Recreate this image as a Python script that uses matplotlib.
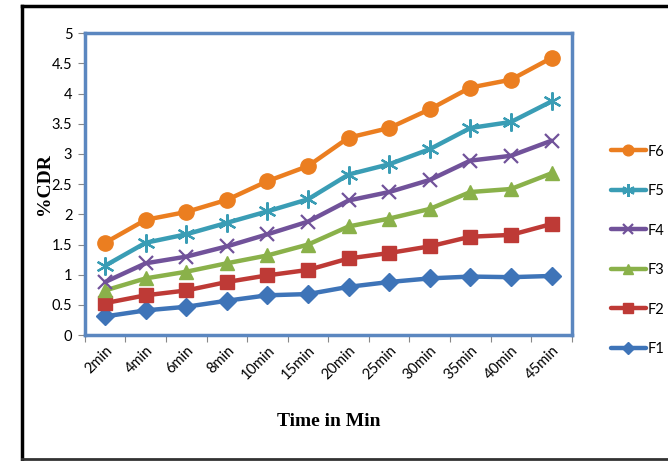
import matplotlib
matplotlib.use("Agg")
import matplotlib.pyplot as plt
from matplotlib.lines import Line2D

times = ['2min', '4min', '6min', '8min', '10min', '15min',
         '20min', '25min', '30min', '35min', '40min', '45min']

f1 = [0.31, 0.41, 0.47, 0.57, 0.66, 0.68, 0.80, 0.88, 0.94, 0.97, 0.96, 0.98]
f2 = [0.53, 0.66, 0.74, 0.88, 0.99, 1.08, 1.27, 1.36, 1.47, 1.63, 1.66, 1.84]
f3 = [0.74, 0.94, 1.05, 1.19, 1.32, 1.50, 1.80, 1.93, 2.09, 2.37, 2.42, 2.68]
f4 = [0.88, 1.19, 1.30, 1.47, 1.67, 1.88, 2.23, 2.37, 2.57, 2.89, 2.97, 3.22]
f5 = [1.15, 1.53, 1.67, 1.86, 2.05, 2.25, 2.66, 2.83, 3.08, 3.43, 3.53, 3.87]
f6 = [1.53, 1.91, 2.04, 2.24, 2.55, 2.80, 3.27, 3.43, 3.74, 4.10, 4.23, 4.59]

series = [
    ('F1', f1, '#3E74B8', 'D', 9),
    ('F2', f2, '#BE3A36', 's', 10),
    ('F3', f3, '#8AB14A', '^', 10),
    ('F4', f4, '#71529A', 'x', 10),
    ('F5', f5, '#3A9DB5', (6, 2, 0), 13),
    ('F6', f6, '#EB7E20', 'o', 11),
]

tick_font = 'Lato'

fig = plt.figure(figsize=(6.68, 4.61), dpi=100)
ax = fig.add_axes([0.127, 0.273, 0.729, 0.655])

x = list(range(len(times)))
for name, vals, col, mk, ms in series:
    if mk in ('x', (6, 2, 0)):
        ax.plot(x, vals, color=col, lw=3.2, marker=mk, ms=ms,
                markeredgewidth=1.6, markeredgecolor=col, label=name,
                solid_capstyle='round')
    else:
        ax.plot(x, vals, color=col, lw=3.2, marker=mk, ms=ms,
                markerfacecolor=col, markeredgecolor=col, label=name,
                solid_capstyle='round')

ax.set_xlim(-0.5, len(times) - 0.5)
ax.set_ylim(0, 5)
ax.set_yticks([0, 0.5, 1, 1.5, 2, 2.5, 3, 3.5, 4, 4.5, 5])
ax.set_yticklabels(['0', '0.5', '1', '1.5', '2', '2.5', '3', '3.5', '4', '4.5', '5'],
                   family=tick_font, fontsize=10.5)
ax.set_xticks([i - 0.5 for i in range(len(times) + 1)], minor=False)
ax.set_xticklabels([''] * (len(times) + 1))
ax.set_xticks(x, minor=True)
ax.set_xticklabels(times, minor=True, rotation=45, ha='right', rotation_mode='anchor',
                   family=tick_font, fontsize=10.5)
ax.tick_params(axis='x', which='minor', length=0, pad=6)
ax.tick_params(axis='x', which='major', length=5, color='#888888')
ax.tick_params(axis='y', length=5, color='#888888', pad=4)

for s in ax.spines.values():
    s.set_color('#5B87C0')
    s.set_linewidth(2.5)

ax.set_ylabel('%CDR', family='Liberation Serif', fontweight='bold', fontsize=14)
ax.yaxis.set_label_coords(-0.066, 0.5)
ax.set_xlabel('Time in Min', family='Liberation Serif', fontweight='bold', fontsize=14, labelpad=22)

handles, labels = ax.get_legend_handles_labels()
leg = fig.legend(handles[::-1], labels[::-1], loc='upper left',
                 bbox_to_anchor=(0.895, 0.715), frameon=False, markerscale=0.7,
                 handlelength=2.4, labelspacing=1.75, handletextpad=0.1,
                 prop={'family': tick_font, 'size': 10.5})

# outer frame (left, top, bottom)
fig.add_artist(Line2D([22 / 668, 22 / 668], [1 - 6 / 461, 1 - 459 / 461],
                      transform=fig.transFigure, color='black', lw=2.5))
fig.add_artist(Line2D([22 / 668, 1.0], [1 - 6 / 461, 1 - 6 / 461],
                      transform=fig.transFigure, color='black', lw=2.5))
fig.add_artist(Line2D([22 / 668, 1.0], [1 - 459 / 461, 1 - 459 / 461],
                      transform=fig.transFigure, color='#333333', lw=2.0))

fig.savefig('out.png', dpi=100)
